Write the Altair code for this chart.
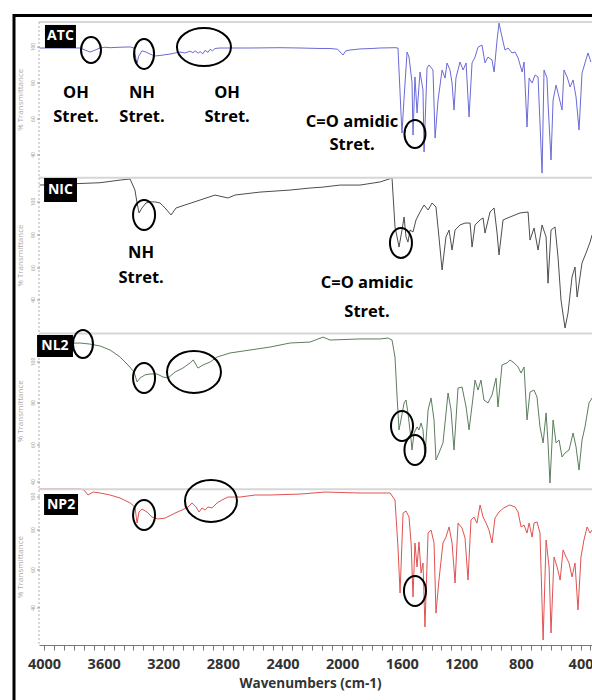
import altair as alt
import pandas as pd

samples = ["ATC", "NIC", "NL2", "NP2"]
line_colors = ["#6a6ad6", "#4d4d4d", "#5d7d5d", "#e05252"]

atc_wn = [4030, 3759, 3725, 3692, 3670, 3625, 3591, 3557, 3490, 3423, 3396, 3383, 3376, 3365, 3343, 3316, 3289, 3256, 3222, 3188,
          3155, 3121, 3088, 3054, 3020, 3000, 2987, 2965, 2953, 2935, 2920, 2900, 2886, 2870, 2853, 2819, 2786, 2752, 2618, 2417,
          2282, 2148, 2081, 2030, 1994, 1975, 1947, 1880, 1800, 1745, 1645, 1625, 1604, 1598, 1585, 1564, 1551, 1531, 1524, 1511,
          1497, 1477, 1457, 1450, 1430, 1417, 1390, 1376, 1356, 1329, 1309, 1296, 1276, 1262, 1249, 1236, 1209, 1188, 1168, 1148,
          1128, 1108, 1088, 1061, 1041, 1021, 994, 980, 960, 947, 927, 907, 886, 860, 839, 819, 792, 779, 759, 745,
          725, 705, 685, 658, 645, 625, 618, 598, 584, 564, 551, 524, 511, 490, 470, 450, 430, 410, 390, 370,
          350, 330]
atc_t = [83.3, 83.3, 82.0, 80.7, 81.5, 83.3, 83.8, 83.5, 83.8, 84.0, 83.3, 76.0, 73.7, 78.0, 81.5, 80.7, 79.4, 78.2, 78.5, 79.0,
         79.4, 80.1, 80.7, 80.1, 81.3, 80.3, 81.5, 80.0, 81.0, 79.5, 81.8, 80.5, 82.5, 81.5, 83.0, 83.3, 83.3, 83.3, 83.3, 83.5,
         83.3, 83.0, 83.0, 82.5, 78.8, 81.5, 82.0, 82.7, 83.0, 83.3, 83.5, 83.3, 40.0, 28.7, 50.0, 80.7, 77.5, 61.4, 27.4, 64.7,
         41.6, 67.9, 56.3, 16.5, 70.5, 72.4, 69.2, 25.5, 49.9, 69.2, 64.0, 73.7, 69.2, 60.8, 43.5, 64.0, 74.3, 69.2, 73.7, 39.0,
         73.7, 77.5, 83.8, 85.2, 73.7, 77.5, 75.6, 67.9, 88.4, 99.3, 90.4, 82.0, 83.3, 80.1, 80.7, 76.9, 67.9, 74.3, 32.6, 64.0,
         60.8, 66.0, 64.7, 3.0, 69.2, 64.0, 48.0, 11.4, 49.9, 59.5, 54.4, 43.5, 69.2, 64.7, 58.3, 62.8, 51.8, 30.7, 67.2, 73.7,
         80.1, 74.3]

nic_wn = [4030, 3625, 3490, 3423, 3390, 3376, 3363, 3343, 3316, 3289, 3256, 3222, 3188, 3148, 3114, 3054, 2953, 2853, 2766, 2719,
          2551, 2349, 2215, 2128, 2014, 1880, 1745, 1665, 1645, 1631, 1618, 1598, 1584, 1571, 1558, 1544, 1524, 1504, 1477, 1450,
          1423, 1396, 1370, 1350, 1329, 1303, 1282, 1262, 1242, 1209, 1175, 1141, 1128, 1108, 1074, 1054, 1041, 1007, 980, 960,
          947, 920, 873, 806, 752, 739, 712, 685, 658, 631, 618, 598, 571, 551, 531, 504, 484, 457, 437, 423,
          390, 363, 336, 323]
nic_t = [95.3, 96.8, 98.5, 99.2, 92.1, 83.8, 77.4, 80.6, 83.8, 84.5, 84.5, 83.8, 80.6, 76.1, 80.6, 82.5, 85.7, 88.9, 87.0, 88.9,
         90.8, 92.1, 93.4, 94.0, 95.3, 95.3, 97.3, 99.8, 68.4, 62.0, 55.5, 66.4, 74.8, 62.0, 58.7, 66.4, 65.2, 72.9, 78.0, 82.5,
         79.3, 83.8, 81.2, 62.0, 40.8, 62.0, 66.4, 53.6, 66.4, 69.7, 70.9, 70.9, 55.5, 69.7, 72.9, 74.2, 64.5, 78.0, 80.6, 64.5,
         50.4, 72.9, 74.8, 77.4, 78.0, 60.0, 67.7, 53.6, 69.7, 62.0, 32.3, 66.4, 68.4, 49.1, 21.5, 3.5, 13.2, 36.3, 42.7, 23.4,
         45.3, 51.7, 58.7, 63.2]

nl2_wn = [4030, 3759, 3692, 3625, 3557, 3490, 3437, 3396, 3376, 3356, 3323, 3289, 3242, 3202, 3168, 3121, 3068, 3020, 2999, 2967,
          2933, 2886, 2839, 2752, 2618, 2484, 2349, 2215, 2128, 2081, 1880, 1745, 1692, 1665, 1645, 1631, 1618, 1605, 1584, 1571,
          1558, 1537, 1531, 1517, 1497, 1484, 1470, 1457, 1444, 1423, 1403, 1383, 1370, 1350, 1323, 1289, 1269, 1249, 1222, 1195,
          1168, 1148, 1121, 1108, 1088, 1068, 1048, 1021, 994, 967, 954, 927, 893, 873, 846, 819, 799, 779, 759, 739,
          712, 692, 672, 651, 631, 618, 605, 584, 564, 544, 524, 504, 477, 450, 430, 410, 390, 370, 343, 323]
nl2_t = [93.2, 93.9, 93.2, 92.0, 89.4, 84.9, 79.8, 75.3, 68.9, 71.4, 73.4, 74.0, 74.0, 72.1, 71.4, 75.3, 77.8, 81.1, 83.0, 77.8,
         79.8, 81.7, 84.9, 87.5, 89.4, 91.3, 93.9, 94.5, 97.7, 95.8, 96.5, 96.5, 97.1, 95.8, 84.9, 59.2, 38.1, 44.5, 55.4, 57.3,
         49.0, 31.6, 25.2, 36.1, 40.0, 38.1, 42.5, 38.1, 20.7, 50.9, 58.6, 44.5, 18.8, 23.3, 29.7, 61.8, 50.9, 25.2, 65.0, 65.6,
         52.8, 38.1, 59.2, 70.1, 63.7, 70.1, 57.3, 55.4, 60.5, 71.4, 52.8, 79.8, 81.1, 83.0, 81.1, 78.5, 74.6, 78.5, 44.5, 62.4,
         63.7, 59.2, 40.0, 29.7, 49.0, 29.7, 4.0, 44.5, 29.7, 31.6, 20.7, 23.3, 25.2, 36.1, 27.1, 12.3, 31.6, 40.0, 55.4, 58.6]

np2_wn = [4030, 3759, 3732, 3705, 3671, 3625, 3557, 3490, 3423, 3390, 3376, 3363, 3343, 3309, 3276, 3235, 3188, 3121, 3074, 3034,
          3007, 2980, 2960, 2940, 2920, 2900, 2873, 2839, 2806, 2766, 2685, 2584, 2484, 2282, 2115, 1880, 1678, 1645, 1625, 1611,
          1591, 1571, 1551, 1537, 1524, 1511, 1497, 1484, 1470, 1457, 1444, 1423, 1403, 1383, 1370, 1350, 1323, 1303, 1282, 1262,
          1242, 1222, 1195, 1175, 1155, 1135, 1115, 1095, 1074, 1054, 1034, 1014, 994, 974, 947, 915, 875, 840, 819, 799,
          779, 759, 745, 725, 712, 692, 672, 651, 631, 611, 598, 578, 557, 537, 517, 497, 477, 457, 437, 417,
          397, 377, 356, 336, 323]
np2_t = [100.2, 100.2, 99.5, 96.3, 98.2, 97.6, 96.3, 94.4, 91.2, 88.6, 78.3, 85.4, 87.3, 85.4, 82.2, 80.9, 81.5, 84.7, 86.7, 88.6,
         91.2, 88.6, 85.4, 88.0, 86.7, 88.6, 88.0, 91.2, 93.1, 95.0, 95.0, 96.3, 96.3, 96.9, 98.2, 97.6, 97.6, 93.1, 62.9, 33.4,
         84.7, 86.0, 82.2, 65.5, 30.8, 65.5, 50.1, 66.1, 46.2, 52.6, 11.6, 71.9, 73.8, 65.5, 20.5, 41.7, 65.5, 69.3, 75.8, 65.5,
         39.8, 78.3, 75.1, 68.7, 41.7, 80.3, 82.2, 78.3, 89.9, 82.2, 78.3, 73.8, 65.5, 81.5, 85.4, 88.0, 89.9, 88.6, 85.4, 75.8,
         77.0, 71.9, 78.3, 69.3, 78.3, 79.0, 71.9, 3.2, 67.4, 50.1, 7.7, 56.5, 50.1, 41.7, 61.0, 56.5, 52.6, 43.7, 52.6, 22.5,
         56.5, 67.4, 75.8, 71.9, 73.8]

# annotation texts (anchor: wavenumber, stacked-panel value)
note_text = ["OH", "Stret.", "NH", "Stret.", "OH", "Stret.", "C=O amidic", "Stret.", "NH", "Stret.", "C=O amidic", "Stret."]
note_wn = [3786, 3786, 3343, 3343, 2772, 2772, 1933, 1933, 3349, 3349, 1833, 1833]
note_y = [354.4, 339.0, 354.4, 339.0, 354.4, 339.0, 335.8, 321.0, 251.7, 235.6, 232.4, 213.8]

# highlighted regions (ellipse centres)
ring_wn = [3685, 3329, 2927, 1511, 3329, 1605, 3739, 3329, 2994, 1598, 1511, 3329, 2880, 1511]
ring_y = [382.0, 379.5, 383.9, 328.1, 276.1, 258.1, 193.3, 171.4, 175.3, 140.6, 125.2, 83.5, 92.5, 34.7]
ring_rx = [10, 10, 27, 10.5, 11, 11, 10, 11, 27, 11, 10.5, 11, 26, 11]
ring_ry = [13, 15, 19, 14, 15, 15, 14, 15, 21, 15, 15, 15, 21, 15]

# sample tags
tag_wn1 = [3994, 4000, 4047, 4000]
tag_wn2 = [3786, 3779, 3806, 3772]
tag_y1 = [398.1, 299.8, 199.0, 96.9]
tag_y2 = [383.3, 284.4, 184.9, 83.5]
tag_cwn = [3890, 3890, 3927, 3886]
tag_cy = [390.7, 292.1, 192.0, 90.2]

# small per-panel y ticks
tick_t = [[83.9, 60.8, 37.7, 14.6], [84.4, 63.2, 42.0, 21.5], [81.7, 55.4, 28.4, 4.6], [95.0, 73.8, 48.2, 23.8]]
tick_labels = ["100", "80", "60", "40"]

x_ticks = [round(4000 - i * 400 / 6, 3) for i in range(56)]

frames = []
for k, (name, wn, tt) in enumerate(zip(samples, [atc_wn, nic_wn, nl2_wn, np2_wn], [atc_t, nic_t, nl2_t, np2_t])):
    d = pd.DataFrame({"wn": wn, "t": tt})
    d["sample"] = name
    d["yv"] = (3 - k) * 100 + d["t"]
    frames.append(d)
spec = pd.concat(frames, ignore_index=True)

W, H = 553, 623
xs = alt.Scale(domain=[323, 4034], reverse=True, nice=False, zero=False)
ys = alt.Scale(domain=[0, 400], nice=False, zero=False)
FONT = "Open Sans"

x_axis = alt.Axis(values=x_ticks,
                  labelExpr="abs(datum.value/400 - round(datum.value/400)) < 0.001 ? format(datum.value, 'd') : ''",
                  labelOverlap=False, tickSize=5, tickColor="#777", domainColor="#777", grid=False,
                  labelFont=FONT, labelFontSize=14.5, labelFontWeight="bold", labelColor="#333", labelPadding=7,
                  title="Wavenumbers (cm-1)", titleFont=FONT, titleFontSize=13.5, titleFontWeight="bold",
                  titleColor="#333", titlePadding=6, titleX=271)


def X(field):
    return alt.X(field, scale=xs, axis=x_axis)


def Y(field):
    return alt.Y(field, scale=ys, axis=None)


lines = alt.Chart(spec).mark_line(strokeWidth=1).encode(
    x=X("wn:Q"),
    y=Y("yv:Q"),
    color=alt.Color("sample:N", scale=alt.Scale(domain=samples, range=line_colors), legend=None),
    order=alt.Order("wn:Q"),
)

sep_df = pd.DataFrame({"yv": [400, 300, 200, 100]})
seps = alt.Chart(sep_df).mark_rule(color="#d6d6d6", strokeWidth=2).encode(
    y=Y("yv:Q"), x=alt.value(0), x2=alt.value(W))

one = pd.DataFrame({"a": [0]})
yline = alt.Chart(one).mark_rule(color="#b0b0b0", strokeWidth=1, strokeDash=[2, 2]).encode(
    x=alt.value(0), y=alt.value(0), y2=alt.value(H))

tick_rows = []
for k in range(4):
    for t, lab in zip(tick_t[k], tick_labels):
        tick_rows.append({"yv": (3 - k) * 100 + t, "lab": lab})
tick_df = pd.DataFrame(tick_rows)
yticks = alt.Chart(tick_df).mark_rule(color="#999", strokeWidth=1).encode(
    y=Y("yv:Q"), x=alt.value(-2), x2=alt.value(1))
ylabs = alt.Chart(tick_df).mark_text(font=FONT, fontSize=5, color="#9a9a9a", angle=270,
                                     align="center", baseline="middle").encode(
    y=Y("yv:Q"), x=alt.value(-6), text="lab:N")

ytitle_df = pd.DataFrame({"yv": [350, 250, 150, 50], "lab": ["% Transmittance"] * 4})
ytitles = alt.Chart(ytitle_df).mark_text(font=FONT, fontSize=8, color="#aaaaaa", angle=270,
                                         align="center", baseline="middle").encode(
    y=Y("yv:Q"), x=alt.value(-18), text="lab:N")

tag_df = pd.DataFrame({"w1": tag_wn1, "w2": tag_wn2, "y1": tag_y1, "y2": tag_y2,
                       "cw": tag_cwn, "cy": tag_cy, "name": samples})
tag_box = alt.Chart(tag_df).mark_rect(color="black").encode(
    x=X("w1:Q"), x2="w2:Q", y=Y("y1:Q"), y2="y2:Q")
tag_txt = alt.Chart(tag_df).mark_text(font=FONT, fontSize=14, fontWeight="bold", color="white",
                                      align="center", baseline="middle").encode(
    x=X("cw:Q"), y=Y("cy:Q"), text="name:N")

note_df = pd.DataFrame({"wn": note_wn, "yv": note_y, "txt": note_text})
notes = alt.Chart(note_df).mark_text(font=FONT, fontSize=16.5, fontWeight="bold", color="black",
                                     align="center", baseline="middle").encode(
    x=X("wn:Q"), y=Y("yv:Q"), text="txt:N")

ring_df = pd.DataFrame({"wn": ring_wn, "yv": ring_y, "rx": ring_rx, "ry": ring_ry})
ring_df["path"] = [f"M {-a} 0 A {a} {b} 0 1 0 {a} 0 A {a} {b} 0 1 0 {-a} 0 Z"
                   for a, b in zip(ring_df["rx"], ring_df["ry"])]
rings = alt.Chart(ring_df).mark_point(filled=False, stroke="black", strokeWidth=2, opacity=1).encode(
    x=X("wn:Q"), y=Y("yv:Q"),
    shape=alt.Shape("path:N", scale=None), size=alt.value(4))

frame_top = alt.Chart(one).mark_rule(color="black", strokeWidth=3).encode(
    x=alt.value(-26), x2=alt.value(W + 5), y=alt.value(-6.5))
frame_left = alt.Chart(one).mark_rule(color="black", strokeWidth=3).encode(
    x=alt.value(-25), y=alt.value(-8), y2=alt.value(H + 60))

chart = alt.layer(
    lines, seps, yline, yticks, ylabs, ytitles, tag_box, tag_txt, notes, rings, frame_top, frame_left
).properties(
    width=W, height=H,
    autosize=alt.AutoSizeParams(type="none"),
    padding={"left": 39, "top": 22, "right": 0, "bottom": 55},
    background="white",
).configure_view(stroke=None)

chart.save("out.html", embed_options={"renderer": "svg", "actions": False})
